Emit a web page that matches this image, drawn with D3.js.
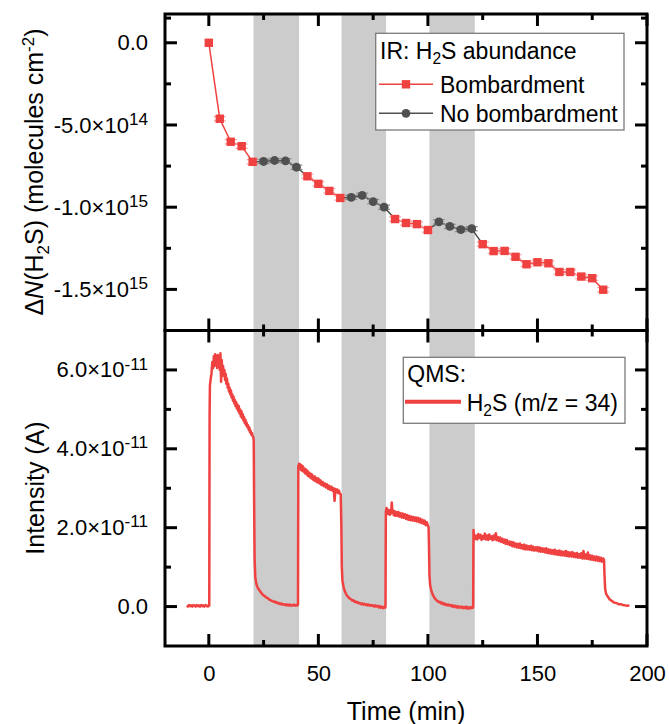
<!DOCTYPE html>
<html><head><meta charset="utf-8">
<script src="https://cdn.jsdelivr.net/npm/d3@7/dist/d3.min.js"></script>
<style>html,body{margin:0;padding:0;background:#fff;}svg{display:block;}</style>
</head><body>
<script>
// ---------------- DATA ----------------
// IR: H2S column density change (molecules cm^-2)
const bombTime  = [0,5,10,15,20,45,50,55,60,85,90,95,100,125,130,135,140,145,150,155,160,165,170,175,180];
const bombValue = [0,-4.62e14,-6.02e14,-6.29e14,-7.24e14,-8.12e14,-8.58e14,-9.01e14,-9.44e14,-1.072e15,-1.096e15,-1.103e15,-1.139e15,
                   -1.225e15,-1.267e15,-1.266e15,-1.302e15,-1.347e15,-1.335e15,-1.341e15,-1.394e15,-1.394e15,-1.422e15,-1.432e15,-1.502e15];
const bombErr   = [0,1.3e13,1.3e13,1.3e13,1.3e13,1.3e13,1.3e13,1.3e13,1.3e13,1.3e13,1.3e13,1.3e13,1.3e13,
                   1.3e13,1.3e13,1.3e13,1.3e13,1.3e13,1.3e13,1.3e13,1.3e13,1.3e13,1.3e13,1.3e13,1.3e13];
const noBombTime  = [25,30,35,40,65,70,75,80,105,110,115,120];
const noBombValue = [-7.22e14,-7.16e14,-7.18e14,-7.57e14,-9.40e14,-9.28e14,-9.66e14,-1.00e15,-1.089e15,-1.117e15,-1.136e15,-1.131e15];
const noBombErr   = [1.3e13,1.3e13,1.3e13,1.3e13,1.3e13,1.3e13,1.3e13,1.3e13,1.3e13,1.3e13,1.3e13,1.3e13];

// grey bands (no-bombardment periods, min)
const bandStart = [20.4, 60.6, 100.7];
const bandEnd   = [41.2, 80.9, 121.4];

// QMS H2S (m/z = 34): [time (min), intensity (x1e-11 A)]
const qmsTrace = [
[-10,0.03],[-9.5,0.0],[-9,0.04],[-8.5,0.01],[-8,0.03],[-7.5,0.0],[-7,0.04],[-6.5,0.02],[-6,0.0],[-5.5,0.04],[-5,0.01],[-4.5,0.03],[-4,0.0],[-3.5,0.04],[-3,0.01],[-2.5,0.03],[-2,0.0],[-1.5,0.04],[-1,0.02],[-0.5,0.0],[0,0.03],[0.2,0.02],
[0.35,4.8],[0.5,5.6],[0.8,5.75],[1.2,5.9],[1.6,6.2],[2,6.05],[2.3,6.35],[2.6,6.1],[2.9,6.4],[3.2,6.15],[3.5,6.3],[3.8,6.05],[4.1,6.38],[4.4,6.1],[4.7,6.3],[5.0,6.0],[5.3,6.42],[5.6,5.7],[5.9,6.25],[6.2,5.95],[6.5,6.1],[6.8,5.85],[7.1,6.0],[7.4,5.75],[7.7,5.9],[8.0,5.65],[8.3,5.78],[8.6,5.55],[8.9,5.65],[9.2,5.45],[9.5,5.55],[9.8,5.38],[10.1,5.48],[10.4,5.3],[10.7,5.38],[11,5.22],[11.3,5.32],[11.6,5.15],[11.9,5.24],[12.2,5.08],[12.5,5.18],[12.8,5.02],[13.1,5.12],[13.4,4.96],[13.7,5.08],[14,4.9],[14.3,5.0],[14.6,4.82],[14.9,4.95],[15.2,4.78],[15.5,4.88],[15.8,4.72],[16.1,4.8],[16.4,4.65],[16.7,4.74],[17,4.6],[17.3,4.66],[17.6,4.55],[17.9,4.6],[18.2,4.48],[18.5,4.54],[18.8,4.42],[19.1,4.46],[19.4,4.36],[19.7,4.4],[20,4.32],[20.3,4.3],
[20.5,4.2],[20.7,2.5],[20.9,1.2],[21.2,0.75],[21.6,0.6],[22,0.52],[22.5,0.46],[23,0.42],[23.5,0.38],[24,0.34],[24.5,0.31],[25,0.28],[25.5,0.27],[26,0.24],[26.5,0.22],[27,0.21],[27.5,0.18],[28,0.17],[28.5,0.15],[29,0.14],[29.5,0.12],[30,0.13],[30.5,0.1],[31,0.11],[31.5,0.08],[32,0.09],[32.5,0.06],[33,0.08],[33.5,0.05],[34,0.06],[34.5,0.04],[35,0.06],[35.5,0.03],[36,0.05],[36.5,0.03],[37,0.05],[37.5,0.02],[38,0.04],[38.5,0.03],[39,0.05],[39.5,0.02],[40,0.04],[40.5,0.03],
[40.7,0.05],[40.85,3.55],[41.2,3.62],[41.5,3.5],[41.8,3.6],[42.1,3.46],[42.4,3.58],[42.7,3.44],[43,3.55],[43.3,3.42],[43.6,3.5],[43.9,3.38],[44.2,3.48],[44.5,3.36],[44.8,3.45],[45.1,3.32],[45.4,3.42],[45.7,3.3],[46,3.38],[46.3,3.27],[46.6,3.36],[46.9,3.25],[47.2,3.34],[47.5,3.22],[47.8,3.3],[48.1,3.2],[48.4,3.3],[48.7,3.18],[49,3.26],[49.5,3.15],[50,3.25],[50.5,3.12],[51,3.2],[51.5,3.08],[52,3.16],[52.5,3.05],[53,3.12],[53.5,3.02],[54,3.1],[54.5,2.98],[55,3.06],[55.5,2.96],[56,3.04],[56.5,2.94],[57,3.0],[57.4,2.68],[57.8,2.98],[58.2,2.9],[58.6,2.97],[59,2.88],[59.4,2.94],[59.8,2.86],[60.2,2.85],
[60.5,2.0],[60.7,1.0],[61,0.65],[61.5,0.5],[62,0.4],[62.5,0.34],[63,0.28],[63.5,0.25],[64,0.22],[64.5,0.2],[65,0.18],[65.5,0.15],[66,0.16],[66.5,0.12],[67,0.13],[67.5,0.1],[68,0.11],[68.5,0.08],[69,0.09],[69.5,0.06],[70,0.08],[70.5,0.05],[71,0.07],[71.5,0.04],[72,0.06],[72.5,0.03],[73,0.05],[73.5,0.02],[74,0.04],[74.5,0.02],[75,0.03],[75.5,0.0],[76,0.03],[76.5,0.0],[77,0.02],[77.5,-0.02],[78,0.01],[78.5,-0.03],[79,0.0],[79.5,-0.04],[80,-0.01],[80.5,-0.03],
[80.65,0.0],[80.8,2.4],[81.1,2.5],[81.4,2.36],[81.7,2.46],[82,2.34],[82.3,2.44],[82.6,2.33],[82.9,2.42],[83.2,2.36],[83.5,2.64],[83.8,2.38],[84.1,2.44],[84.4,2.32],[84.7,2.42],[85,2.3],[85.5,2.4],[86,2.3],[86.5,2.4],[87,2.28],[87.5,2.37],[88,2.26],[88.5,2.36],[89,2.25],[89.5,2.34],[90,2.22],[90.5,2.32],[91,2.2],[91.5,2.3],[92,2.19],[92.5,2.28],[93,2.18],[93.5,2.27],[94,2.17],[94.5,2.26],[95,2.16],[95.5,2.25],[96,2.14],[96.5,2.23],[97,2.12],[97.5,2.2],[98,2.1],[98.5,2.18],[99,2.06],[99.5,2.14],[100,2.05],[100.3,2.02],
[100.5,1.5],[100.7,0.8],[101,0.55],[101.5,0.42],[102,0.33],[102.5,0.27],[103,0.22],[103.5,0.19],[104,0.15],[104.5,0.14],[105,0.11],[105.5,0.12],[106,0.08],[106.5,0.1],[107,0.06],[107.5,0.08],[108,0.04],[108.5,0.06],[109,0.03],[109.5,0.05],[110,0.02],[110.5,0.04],[111,0.0],[111.5,0.03],[112,-0.01],[112.5,0.02],[113,-0.02],[113.5,0.01],[114,-0.03],[114.5,0.0],[115,-0.03],[115.5,0.0],[116,-0.04],[116.5,-0.01],[117,-0.04],[117.5,0.0],[118,-0.05],[118.5,-0.02],[119,-0.05],[119.5,-0.01],[120,-0.04],[120.5,-0.03],
[120.65,0.0],[120.8,1.94],
[121,1.83],[121.5,1.71],[122,1.80],[122.5,1.70],[123,1.84],[123.5,1.74],[124,1.82],[124.5,1.69],[125,1.79],[125.5,1.72],[126,1.85],[126.5,1.70],[127,1.80],[127.5,1.69],[128,1.83],[128.5,1.72],[129,1.78],[129.5,1.68],[130,1.80],[130.5,1.70],
[131,1.86],[131.5,1.68],[132,1.76],[132.5,1.66],[133,1.75],[133.5,1.64],[134,1.72],[134.5,1.62],[135,1.70],[135.5,1.59],[136,1.69],[136.5,1.58],[137,1.65],[137.5,1.56],[138,1.64],[138.5,1.53],[139,1.63],[139.5,1.52],[140,1.60],[140.5,1.50],
[141,1.59],[141.5,1.49],[142,1.60],[142.5,1.48],[143,1.56],[143.5,1.46],[144,1.57],[144.5,1.45],[145,1.55],[145.5,1.45],[146,1.53],[146.5,1.44],[147,1.54],[147.5,1.43],[148,1.52],[148.5,1.42],[149,1.50],[149.5,1.42],[150,1.51],[150.5,1.40],
[151,1.50],[151.5,1.39],[152,1.48],[152.5,1.39],[153,1.47],[153.5,1.37],[154,1.48],[154.5,1.36],[155,1.45],[155.5,1.35],[156,1.44],[156.5,1.34],[157,1.43],[157.5,1.33],[158,1.44],[158.5,1.32],[159,1.41],[159.5,1.31],[160,1.42],[160.5,1.30],
[161,1.40],[161.5,1.30],[162,1.39],[162.5,1.29],[163,1.41],[163.5,1.28],[164,1.38],[164.5,1.27],[165,1.37],[165.5,1.27],[166,1.38],[166.5,1.26],[167,1.35],[167.5,1.25],[168,1.36],[168.5,1.24],[169,1.33],[169.5,1.24],[170,1.35],[170.5,1.22],
[171,1.41],[171.5,1.22],[172,1.32],[172.5,1.21],[173,1.37],[173.5,1.20],[174,1.30],[174.5,1.19],[175,1.29],[175.5,1.18],[176,1.27],[176.5,1.17],[177,1.27],[177.5,1.16],[178,1.25],[178.5,1.15],[179,1.24],[179.5,1.14],[180,1.22],[180.4,1.18],
[180.6,0.8],[180.9,0.45],[181.3,0.33],[182,0.26],[183,0.18],[184,0.14],[185,0.1],[186,0.09],[187,0.06],[188,0.06],[189,0.04],[190,0.03],[191,0.02],[192,0.03]
];

// ticks and labels
const xMajor = [0,50,100,150,200];
const xMinor = [25,75,125,175];
const xLabels = ["0","50","100","150","200"];
const topMajor = [0,-5e14,-1e15,-1.5e15];
const topMinor = [1.5e14,-2.5e14,-7.5e14,-1.25e15];
const topLabels = [["0.0"],["-5.0×10",["14","sup"]],["-1.0×10",["15","sup"]],["-1.5×10",["15","sup"]]];
const botMajor = [0,2e-11,4e-11,6e-11];
const botMinor = [1e-11,3e-11,5e-11];
const botLabels = [["0.0"],["2.0×10",["-11","sup"]],["4.0×10",["-11","sup"]],["6.0×10",["-11","sup"]]];

// ---------------- DRAW ----------------
const W=669,H=724, L=165,R=647,T=14,M=330.5,B=646;
const FONT = "'Liberation Sans', Arial, Helvetica, sans-serif";
const RED="#f04141", GREY="#505050";

const svg=d3.select("body").append("svg").attr("width",W).attr("height",H)
  .attr("font-family",FONT);

const x=d3.scaleLinear().domain([-20,200]).range([L,R]);
const yTop=d3.scaleLinear().domain([-1.75e15,1.75e14]).range([M,T]);
const yBot=d3.scaleLinear().domain([-1e-11,7e-11]).range([B,M]);

function rich(sel, parts, fs, supScale){
  const ss = supScale||0.7;
  let shift=0;
  parts.forEach(p=>{
    const str = typeof p==="string"?p:p[0];
    const kind = typeof p==="string"?null:p[1];
    const t=sel.append("tspan").text(str);
    let target=0;
    if(kind==="sup"){target=-0.36*fs; t.attr("font-size",fs*ss);}
    else if(kind==="sub"){target=0.22*fs; t.attr("font-size",fs*0.68);}
    else if(kind==="it"){t.attr("font-style","italic");}
    if(target-shift!==0) t.attr("dy",target-shift);
    shift=target;
  });
}

// bands
svg.append("g").selectAll("rect").data(bandStart).join("rect")
  .attr("x",(d)=>x(d)).attr("width",(d,i)=>x(bandEnd[i])-x(d))
  .attr("y",T).attr("height",B-T).attr("fill","#cccccc");

// ---- top panel data ----
const gTop=svg.append("g");
const bomb=bombTime.map((t,i)=>({t,v:bombValue[i],e:bombErr[i]}));
const nob=noBombTime.map((t,i)=>({t,v:noBombValue[i],e:noBombErr[i]}));
function runs(arr){const out=[];let cur=[];arr.forEach(d=>{if(cur.length&&d.t-cur[cur.length-1].t>5.01){out.push(cur);cur=[];}cur.push(d);});if(cur.length)out.push(cur);return out;}
const lineTop=d3.line().x(d=>x(d.t)).y(d=>yTop(d.v));
runs(nob).forEach(r=>{
  const pre=bomb.find(d=>Math.abs(d.t-(r[0].t-5))<0.01);
  const post=bomb.find(d=>Math.abs(d.t-(r[r.length-1].t+5))<0.01);
  const pts=[...(pre?[pre]:[]),...r,...(post?[post]:[])];
  gTop.append("path").attr("d",lineTop(pts)).attr("fill","none").attr("stroke",GREY).attr("stroke-width",1.5);
});
runs(bomb).forEach(r=>{
  gTop.append("path").attr("d",lineTop(r)).attr("fill","none").attr("stroke",RED).attr("stroke-width",1.5);
});
function errBars(data,col){
  const g=gTop.append("g").attr("stroke",col).attr("stroke-width",1.2);
  data.forEach(d=>{
    if(!d.e) return;
    const cx=x(d.t), y1=yTop(d.v+d.e), y2=yTop(d.v-d.e);
    g.append("line").attr("x1",cx).attr("x2",cx).attr("y1",y1).attr("y2",y2);
    g.append("line").attr("x1",cx-6).attr("x2",cx+6).attr("y1",y1).attr("y2",y1);
    g.append("line").attr("x1",cx-6).attr("x2",cx+6).attr("y1",y2).attr("y2",y2);
  });
}
errBars(bomb,"#f5a3a3");
errBars(nob,"#8c8c8c");
gTop.append("g").selectAll("rect").data(bomb).join("rect")
  .attr("x",d=>x(d.t)-4.2).attr("y",d=>yTop(d.v)-4.2).attr("width",8.4).attr("height",8.4).attr("fill",RED);
gTop.append("g").selectAll("circle").data(nob).join("circle")
  .attr("cx",d=>x(d.t)).attr("cy",d=>yTop(d.v)).attr("r",4.4).attr("fill",GREY);

// ---- bottom panel data ----
svg.append("path").datum(qmsTrace)
  .attr("d",d3.line().x(d=>x(d[0])).y(d=>yBot(d[1]*1e-11)))
  .attr("fill","none").attr("stroke",RED).attr("stroke-width",2.5).attr("stroke-linejoin","round");

// ---- tick labels (d3 axes, no tick lines) ----
const TS=12, TM=6, SW=3, FS=22;
function labelAxis(gen, scale, major, transform, labels, pad){
  const g=svg.append("g").attr("transform",transform);
  g.call(gen(scale).tickValues(major).tickSize(0).tickPadding(pad).tickFormat(()=>""));
  g.select(".domain").remove();
  g.selectAll(".tick line").remove();
  g.selectAll(".tick text").each(function(d,i){
    const t=d3.select(this); t.text(null).attr("font-size",FS).attr("fill","#000").attr("font-family",FONT);
    rich(t,labels[i],FS,0.78);
  });
}
labelAxis(d3.axisBottom, x, xMajor, `translate(0,${B})`, xLabels.map(s=>[s]), 19);
labelAxis(d3.axisLeft, yTop, topMajor, `translate(${L},0)`, topLabels, 17);
labelAxis(d3.axisLeft, yBot, botMajor, `translate(${L},0)`, botLabels, 17);

// ---- tick marks (inward, mirrored on all sides) ----
const tg=svg.append("g").attr("stroke","#000").attr("stroke-width",SW);
function hTicks(yEdge, dir){
  xMajor.concat(xMinor).forEach(v=>{
    const len = xMajor.includes(v)?TS:TM;
    tg.append("line").attr("x1",x(v)).attr("x2",x(v)).attr("y1",yEdge).attr("y2",yEdge+dir*len);
  });
}
hTicks(T,1); hTicks(M,-1); hTicks(M,1); hTicks(B,-1);
function vTicks(scale, major, minor){
  major.concat(minor).forEach(v=>{
    const len = major.includes(v)?TS:TM;
    tg.append("line").attr("x1",L).attr("x2",L+len).attr("y1",scale(v)).attr("y2",scale(v));
    tg.append("line").attr("x1",R).attr("x2",R-len).attr("y1",scale(v)).attr("y2",scale(v));
  });
}
vTicks(yTop, topMajor, topMinor);
vTicks(yBot, botMajor, botMinor);

// frames
[[T,M],[M,B]].forEach(([a,b])=>{
  svg.append("rect").attr("x",L).attr("y",a).attr("width",R-L).attr("height",b-a)
    .attr("fill","none").attr("stroke","#000").attr("stroke-width",SW);
});

// axis titles
const t1=svg.append("text").attr("transform",`translate(43,172) rotate(-90)`).attr("text-anchor","middle").attr("font-size",25);
rich(t1,["Δ",["N","it"],"(H",["2","sub"],"S) (molecules cm",["-2","sup"],")"],25,0.68);
svg.append("text").attr("transform",`translate(44,488) rotate(-90)`).attr("text-anchor","middle").attr("font-size",25).text("Intensity (A)");
svg.append("text").attr("x",(L+R)/2).attr("y",720).attr("text-anchor","middle").attr("font-size",25).text("Time (min)");

// ---- legends ----
const LF=23;
const lg1=svg.append("g");
lg1.append("rect").attr("x",375.7).attr("y",33.3).attr("width",248.3).attr("height",96.7).attr("fill","#fff").attr("stroke","#7a7a7a").attr("stroke-width",1.3);
rich(lg1.append("text").attr("x",380).attr("y",58.5).attr("font-size",LF),["IR: H",["2","sub"],"S abundance"],LF);
lg1.append("line").attr("x1",379).attr("x2",433).attr("y1",84.3).attr("y2",84.3).attr("stroke",RED).attr("stroke-width",1.5);
lg1.append("rect").attr("x",406-4.2).attr("y",84.3-4.2).attr("width",8.4).attr("height",8.4).attr("fill",RED);
lg1.append("text").attr("x",440).attr("y",92.5).attr("font-size",LF).text("Bombardment");
lg1.append("line").attr("x1",379).attr("x2",433).attr("y1",113.3).attr("y2",113.3).attr("stroke",GREY).attr("stroke-width",1.5);
lg1.append("circle").attr("cx",406).attr("cy",113.3).attr("r",4.4).attr("fill",GREY);
lg1.append("text").attr("x",440).attr("y",121.5).attr("font-size",LF).text("No bombardment");

const lg2=svg.append("g");
lg2.append("rect").attr("x",403.3).attr("y",357.3).attr("width",221.7).attr("height",66).attr("fill","#fff").attr("stroke","#7a7a7a").attr("stroke-width",1.3);
lg2.append("text").attr("x",407.3).attr("y",381.5).attr("font-size",LF).text("QMS:");
lg2.append("line").attr("x1",405).attr("x2",461).attr("y1",401.7).attr("y2",401.7).attr("stroke",RED).attr("stroke-width",4);
rich(lg2.append("text").attr("x",466.7).attr("y",410.5).attr("font-size",LF),["H",["2","sub"],"S (m/z = 34)"],LF);
</script>
</body></html>
